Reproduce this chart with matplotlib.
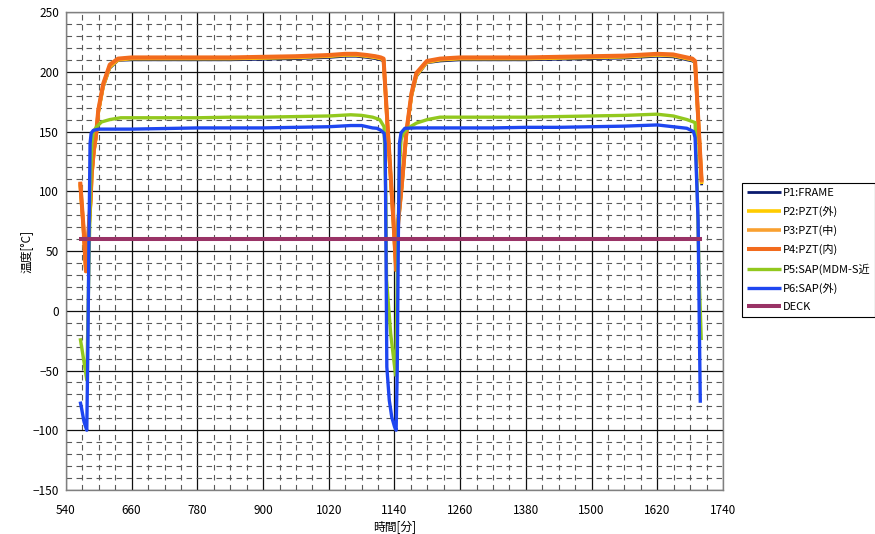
import matplotlib
matplotlib.use("Agg")
import matplotlib.pyplot as plt
from matplotlib.ticker import MultipleLocator

plt.rcParams["font.family"] = ["Noto Sans CJK JP", "DejaVu Sans"]

# --- datos ---
t_pzt = [566, 572, 576.5, 581, 585, 587, 591, 595, 599, 608, 620, 635, 660, 720, 780,
         840, 900, 960, 1020, 1050, 1070, 1090, 1105, 1115, 1120, 1128, 1138, 1143,
         1147, 1153, 1162, 1171, 1180, 1199, 1223, 1260, 1320, 1380, 1440, 1500,
         1560, 1600, 1620, 1649, 1674, 1684, 1689, 1701]
p4_pzt_in = [108, 70, 33, 65, 93, 115, 135, 148, 168, 190, 206, 211, 212, 212, 212,
             212, 212.5, 213, 214, 215, 215, 214, 213, 212, 211, 150, 76, 34,
             76, 104, 151, 182, 199, 209, 211, 212, 212, 212, 212.5, 213,
             213.5, 214.5, 215, 214.5, 212, 211, 209, 108]
p3_pzt_mid = [107, 69, 33, 64, 92, 114, 134, 147, 167, 189, 205, 210.5, 211.5, 211.5, 211.5,
              211.5, 212, 212.5, 213.5, 214.5, 214.5, 213.5, 212.5, 211.5, 210.5, 149, 75, 34,
              75, 103, 150, 181, 198, 208.5, 210.5, 211.5, 211.5, 211.5, 212, 212.5,
              213, 214, 214.5, 214, 211.5, 210.5, 208.5, 107]
p2_pzt_out = [106, 69, 33, 64, 92, 113, 133, 146, 166, 188, 204, 210, 211, 211, 211,
              211, 211.5, 212, 213, 214, 214, 213, 212, 211, 210, 148, 75, 34,
              75, 102, 149, 180, 197, 208, 210, 211, 211, 211, 211.5, 212,
              212.5, 213.5, 214, 213.5, 211, 210, 208, 106]
p1_frame = [105, 68, 33, 63, 91, 112, 132, 145, 165, 187, 203, 209.5, 210, 210, 210,
            210, 210.5, 211, 212, 213, 213, 212, 211, 210, 209, 147, 74, 34,
            74, 101, 148, 179, 196, 207.5, 209, 210, 210, 210, 210.5, 211,
            211.5, 212.5, 213, 212.5, 210, 209, 207.5, 105]

t_p5 = [566, 572, 578, 582, 585, 587, 590, 596, 605, 620, 640, 660, 720, 780, 840, 900,
        960, 1020, 1060, 1080, 1100, 1113, 1121, 1124, 1125.5, 1133, 1142, 1146, 1149,
        1152, 1156, 1165, 1180, 1200, 1223, 1260, 1320, 1380, 1440, 1500, 1560, 1619,
        1649, 1674, 1689, 1693, 1696.4, 1700.3]
p5_sap_mdm = [-23, -40, -58, 40, 110, 140, 150, 154, 158, 160, 161.5, 161.5, 161.5, 161.5,
              162, 162, 162.5, 163, 164, 163.5, 162, 160, 154, 100, 26, -19, -54, 50, 120,
              143, 148.5, 153, 157, 160, 162, 162, 162, 162, 162.5, 163, 163.5, 164.5,
              163, 160, 157.5, 100, 28.5, -24.5]

t_p6 = [566, 569, 573, 578, 580, 582, 584, 586, 590, 600, 660, 720, 780, 840, 900, 960,
        1020, 1060, 1080, 1100, 1108, 1115, 1121, 1123, 1124.5, 1126, 1130.5, 1135, 1140,
        1143, 1145, 1147, 1149, 1152, 1159, 1180, 1220, 1260, 1320, 1380, 1440, 1500,
        1560, 1620, 1649, 1674, 1686, 1689, 1694.5, 1696.4, 1698.5]
p6_sap_out = [-76, -83, -93, -100, -30, 60, 140, 148.7, 151, 152, 152, 152.5, 153, 153,
              153, 153.5, 154, 155, 155, 153, 152.7, 151, 148.5, 140, 50, -47, -75, -89,
              -97, -100, -50, 60, 140, 149, 152.7, 153, 153, 153, 153, 153.5, 153.5, 154,
              154.5, 155.5, 154, 152.7, 150, 145, 76, 0, -77]

t_deck = [564, 1701]
deck = [60, 60]

x_ticks = list(range(540, 1741, 120))
y_ticks = list(range(-150, 251, 50))

series = [
    ("P1:FRAME", t_pzt, p1_frame, "#0A1A6E", 2.0),
    ("P2:PZT(外)", t_pzt, p2_pzt_out, "#FFCC00", 2.6),
    ("P3:PZT(中)", t_pzt, p3_pzt_mid, "#F9A030", 2.6),
    ("P4:PZT(内)", t_pzt, p4_pzt_in, "#F26B1D", 2.9),
    ("P5:SAP(MDM-S近", t_p5, p5_sap_mdm, "#92C81E", 2.4),
    ("P6:SAP(外)", t_p6, p6_sap_out, "#1E46F0", 2.4),
    ("DECK", t_deck, deck, "#993366", 2.9),
]

fig = plt.figure(figsize=(8.75, 5.34), dpi=100)
ax = fig.add_axes([0.0754, 0.0824, 0.7509, 0.8951])

for label, t, v, color, lw in series:
    ax.plot(t, v, color=color, lw=lw, label=label, solid_capstyle="butt")

ax.set_xlim(540, 1740)
ax.set_ylim(-150, 250)
ax.set_xticks(x_ticks)
ax.set_yticks(y_ticks)
ax.xaxis.set_minor_locator(MultipleLocator(30))
ax.yaxis.set_minor_locator(MultipleLocator(10))
ax.grid(True, which="major", color="#101010", lw=0.9)
ax.grid(True, which="minor", color="#5a5a5a", lw=0.8, ls=(0, (5, 4)))
ax.set_axisbelow(True)
ax.tick_params(which="both", length=0, labelsize=8.5)
ax.tick_params(axis="y", pad=5)
ax.tick_params(axis="x", pad=10)
for sp in ax.spines.values():
    sp.set_color("#808080")
    sp.set_linewidth(1.0)

ax.set_xlabel("時間[分]", fontsize=8.5, labelpad=3)
ax.set_ylabel("温度[°C]", fontsize=8.5, labelpad=0)

leg = ax.legend(loc="upper left", bbox_to_anchor=(742 / 875, 1 - 183 / 534),
                bbox_transform=fig.transFigure, borderaxespad=0, fontsize=8,
                frameon=True, fancybox=False, edgecolor="black", framealpha=1,
                handlelength=3.1, handletextpad=0.1, labelspacing=0.72,
                borderpad=0.45)
leg.get_frame().set_linewidth(0.8)

fig.savefig("out.png", dpi=100)
